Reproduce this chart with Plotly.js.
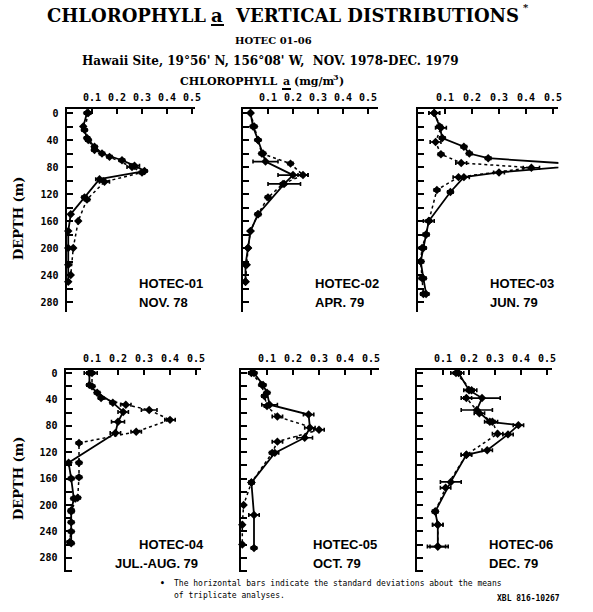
<!DOCTYPE html>
<html>
<head>
<meta charset="utf-8">
<script src="https://cdn.plot.ly/plotly-3.0.1.min.js"></script>
<style>html,body{margin:0;padding:0;background:#fff;}#chart{width:593px;height:612px;}</style>
</head>
<body>
<div id="chart"></div>
<script>
// ---- data (depth in m, chlorophyll a in mg/m3, std dev) ----
const p1SolidDepth = [0, 20, 37, 50, 60, 70, 78, 86, 98, 125, 150, 175, 200, 225, 250];
const p1SolidChl   = [0.08, 0.065, 0.08, 0.11, 0.14, 0.22, 0.27, 0.31, 0.13, 0.07, 0.015, 0.005, 0.005, 0.005, 0.005];
const p1SolidErr   = [0.01, 0.005, 0.01, 0.01, 0.01, 0.01, 0.02, 0.01, 0.015, 0.01, 0.005, 0.005, 0.005, 0.005, 0.005];
const p1DotDepth   = [0, 25, 40, 55, 65, 80, 88, 102, 128, 160, 200, 240];
const p1DotChl     = [0.085, 0.07, 0.085, 0.11, 0.17, 0.26, 0.30, 0.15, 0.08, 0.045, 0.025, 0.015];
const p1DotErr     = [0.01, 0.01, 0.01, 0.01, 0.01, 0.02, 0.01, 0.02, 0.01, 0.005, 0.005, 0.005];

const p2SolidDepth = [0, 20, 40, 60, 72, 92, 105, 150, 175, 200, 225, 250];
const p2SolidChl   = [0.03, 0.04, 0.06, 0.08, 0.09, 0.20, 0.165, 0.06, 0.03, 0.02, 0.01, 0.01];
const p2SolidErr   = [0.005, 0.01, 0.01, 0.01, 0.05, 0.06, 0.065, 0.01, 0.005, 0.005, 0.005, 0.005];
const p2DotDepth   = [0, 20, 40, 60, 75, 92, 105, 125, 150, 175, 200, 225, 250];
const p2DotChl     = [0.03, 0.045, 0.06, 0.075, 0.19, 0.24, 0.16, 0.10, 0.06, 0.03, 0.02, 0.015, 0.01];
const p2DotErr     = [0.005, 0.01, 0.01, 0.01, 0.01, 0.02, 0.01, 0.01, 0.01, 0.005, 0.005, 0.005, 0.005];

const p3SolidDepth = [0, 20, 37, 50, 60, 67, 77, 88, 95, 117, 160, 180, 200, 220, 245, 268];
const p3SolidChl   = [0.06, 0.08, 0.09, 0.17, 0.19, 0.26, 0.63, 0.30, 0.17, 0.12, 0.04, 0.03, 0.02, 0.01, 0.02, 0.03];
const p3SolidErr   = [0.02, 0.01, 0.01, 0.01, 0.01, 0.01, 0.02, 0.02, 0.02, 0.01, 0.02, 0.01, 0.01, 0.01, 0.01, 0.01];
const p3DotDepth   = [0, 22, 43, 61, 74, 81, 95, 114, 160, 180, 200, 220, 245, 268];
const p3DotChl     = [0.06, 0.085, 0.065, 0.085, 0.16, 0.42, 0.15, 0.07, 0.04, 0.03, 0.015, 0.01, 0.015, 0.02];
const p3DotErr     = [0.02, 0.02, 0.02, 0.01, 0.02, 0.03, 0.02, 0.01, 0.01, 0.01, 0.01, 0.01, 0.01, 0.01];

const p4SolidDepth = [0, 18, 30, 45, 59, 74, 91, 136, 160, 190, 210, 240, 258];
const p4SolidChl   = [0.09, 0.09, 0.12, 0.18, 0.22, 0.20, 0.19, 0.01, 0.02, 0.03, 0.02, 0.02, 0.02];
const p4SolidErr   = [0.02, 0.01, 0.01, 0.01, 0.02, 0.025, 0.02, 0.005, 0.01, 0.01, 0.01, 0.01, 0.01];
const p4DotDepth   = [0, 20, 38, 48, 56, 71, 89, 106, 136, 158, 189, 208, 226, 256];
const p4DotChl     = [0.10, 0.10, 0.135, 0.23, 0.32, 0.40, 0.27, 0.05, 0.05, 0.05, 0.045, 0.02, 0.02, 0.015];
const p4DotErr     = [0.02, 0.01, 0.01, 0.02, 0.03, 0.02, 0.02, 0.01, 0.01, 0.01, 0.01, 0.01, 0.01, 0.01];

const p5SolidDepth = [0, 18, 30, 48, 63, 83, 98, 121, 166, 215, 265];
const p5SolidChl   = [0.05, 0.085, 0.10, 0.11, 0.26, 0.265, 0.245, 0.13, 0.04, 0.05, 0.05];
const p5SolidErr   = [0.01, 0.01, 0.01, 0.03, 0.02, 0.02, 0.03, 0.015, 0.01, 0.02, 0.01];
const p5DotDepth   = [0, 18, 35, 50, 66, 86, 104, 121, 166, 200, 230, 260];
const p5DotChl     = [0.04, 0.08, 0.09, 0.10, 0.14, 0.30, 0.14, 0.12, 0.04, 0.01, 0.005, 0.005];
const p5DotErr     = [0.01, 0.01, 0.01, 0.01, 0.02, 0.02, 0.02, 0.01, 0.01, 0.005, 0.005, 0.005];

const p6SolidDepth = [0, 26, 38, 56, 74, 79, 93, 117, 124, 165, 210, 230, 263];
const p6SolidChl   = [0.16, 0.20, 0.25, 0.23, 0.28, 0.39, 0.35, 0.27, 0.19, 0.13, 0.07, 0.08, 0.08];
const p6SolidErr   = [0.02, 0.02, 0.07, 0.06, 0.02, 0.02, 0.02, 0.02, 0.02, 0.04, 0.01, 0.02, 0.04];
const p6DotDepth   = [0, 26, 38, 61, 74, 92, 124, 174, 210, 230, 263];
const p6DotChl     = [0.15, 0.21, 0.19, 0.24, 0.29, 0.31, 0.19, 0.11, 0.07, 0.08, 0.08];
const p6DotErr     = [0.02, 0.02, 0.02, 0.02, 0.02, 0.02, 0.02, 0.02, 0.01, 0.02, 0.03];

const xTickVals  = [0.1, 0.2, 0.3, 0.4, 0.5];
const xTickText  = ['0.1', '0.2', '0.3', '0.4', '0.5'];
const yTickVals  = [0, 40, 80, 120, 160, 200, 240, 280];
const yTickText  = ['0', '40', '80', '120', '160', '200', '240', '280'];
const panelNames = ['HOTEC-01', 'HOTEC-02', 'HOTEC-03', 'HOTEC-04', 'HOTEC-05', 'HOTEC-06'];
const panelDates = ['NOV. 78', 'APR. 79', 'JUN. 79', 'JUL.-AUG. 79', 'OCT. 79', 'DEC. 79'];

// ---- layout geometry (pixels) ----
const W = 593, H = 612;
const panels = [
  {x0: 67,  ppt: 25, xmax: 0.51, top: 109, bot: 312, d0: 113, ppm: 0.675},
  {x0: 243, ppt: 25, xmax: 0.54, top: 109, bot: 312, d0: 113, ppm: 0.675},
  {x0: 418, ppt: 27, xmax: 0.52, top: 109, bot: 312, d0: 113, ppm: 0.675},
  {x0: 66,  ppt: 26, xmax: 0.52, top: 370, bot: 572, d0: 373, ppm: 0.66},
  {x0: 241, ppt: 26, xmax: 0.53, top: 370, bot: 572, d0: 373, ppm: 0.66},
  {x0: 417, ppt: 26, xmax: 0.52, top: 370, bot: 572, d0: 373, ppm: 0.66}
];
const series = [
  [p1SolidDepth, p1SolidChl, p1SolidErr, p1DotDepth, p1DotChl, p1DotErr],
  [p2SolidDepth, p2SolidChl, p2SolidErr, p2DotDepth, p2DotChl, p2DotErr],
  [p3SolidDepth, p3SolidChl, p3SolidErr, p3DotDepth, p3DotChl, p3DotErr],
  [p4SolidDepth, p4SolidChl, p4SolidErr, p4DotDepth, p4DotChl, p4DotErr],
  [p5SolidDepth, p5SolidChl, p5SolidErr, p5DotDepth, p5DotChl, p5DotErr],
  [p6SolidDepth, p6SolidChl, p6SolidErr, p6DotDepth, p6DotChl, p6DotErr]
];

const tickFont = {family: 'DejaVu Sans Mono', size: 10, color: '#000', weight: 'bold'};
const layout = {
  width: W, height: H, margin: {l: 0, r: 0, t: 0, b: 0},
  paper_bgcolor: '#fff', plot_bgcolor: 'rgba(0,0,0,0)',
  showlegend: false, annotations: [], shapes: []
};
const traces = [];

panels.forEach((p, i) => {
  const n = i + 1;
  const xa = 'xaxis' + (n === 1 ? '' : n), ya = 'yaxis' + (n === 1 ? '' : n);
  const xr = 'x' + (n === 1 ? '' : n), yr = 'y' + (n === 1 ? '' : n);
  const x1 = p.x0 + p.xmax * p.ppt * 10;
  const ymin = -(p.d0 - p.top) / p.ppm, ymax = (p.bot - p.d0) / p.ppm;
  layout[xa] = {
    domain: [p.x0 / W, x1 / W], range: [0, p.xmax], anchor: yr, side: 'top',
    showline: true, linewidth: 2.5, linecolor: '#000', showgrid: false, zeroline: false,
    ticks: 'inside', ticklen: 5, tickwidth: 2, tickcolor: '#000',
    tickvals: xTickVals, ticktext: xTickText, tickfont: tickFont,
    ticklabelstandoff: 2, fixedrange: true
  };
  layout[ya] = {
    domain: [1 - p.bot / H, 1 - p.top / H], range: [ymax, ymin], anchor: xr,
    showline: true, linewidth: 2.5, linecolor: '#000', showgrid: false, zeroline: false,
    ticks: 'inside', ticklen: 6, tickwidth: 2, tickcolor: '#000',
    tickvals: yTickVals, ticktext: yTickText,
    minor: {tick0: 0, dtick: 20, ticks: 'inside', ticklen: 6, tickwidth: 2, tickcolor: '#000', showgrid: false},
    showticklabels: (i === 0 || i === 3), tickfont: tickFont, ticklabelstandoff: 4, fixedrange: true
  };
  const s = series[i];
  const mk = {symbol: 'diamond', size: 6.5, color: '#000'};
  traces.push({
    x: s[1], y: s[0], xaxis: xr, yaxis: yr, type: 'scatter', mode: 'lines+markers', cliponaxis: false,
    line: {color: '#000', width: 1.8}, marker: mk,
    error_x: {type: 'data', array: s[2], visible: true, color: '#000', thickness: 1.6, width: 2}
  });
  traces.push({
    x: s[4], y: s[3], xaxis: xr, yaxis: yr, type: 'scatter', mode: 'lines+markers', cliponaxis: false,
    line: {color: '#000', width: 1.5, dash: 'dot'}, marker: mk,
    error_x: {type: 'data', array: s[5], visible: true, color: '#000', thickness: 1.6, width: 2}
  });
  // panel labels
  const lx = (i === 3) ? 113 : p.x0 + 70;
  const ly1 = p.top + 174, ly2 = p.top + 193;
  const lf = {family: 'Liberation Sans', size: 13, color: '#000', weight: 'bold'};
  layout.annotations.push({xref: 'paper', yref: 'paper', x: (i === 3 ? 137 : lx) / W, y: 1 - ly1 / H,
    xanchor: 'left', yanchor: 'middle', showarrow: false, text: panelNames[i], font: lf});
  layout.annotations.push({xref: 'paper', yref: 'paper', x: lx / W, y: 1 - ly2 / H,
    xanchor: 'left', yanchor: 'middle', showarrow: false, text: panelDates[i], font: lf});
});

function ann(text, x, y, font, xanchor, angle) {
  layout.annotations.push({xref: 'paper', yref: 'paper', x: x / W, y: 1 - y / H,
    xanchor: xanchor || 'center', yanchor: 'middle', showarrow: false, text: text, font: font,
    textangle: angle || 0});
}
function uline(xa, xb, y) {
  layout.shapes.push({type: 'line', xref: 'paper', yref: 'paper', x0: xa / W, x1: xb / W,
    y0: 1 - y / H, y1: 1 - y / H, line: {color: '#000', width: 2}});
}
const serifB = s => ({family: 'DejaVu Serif', size: s, color: '#000', weight: 'bold'});
// main title (underlined "a")
ann('CHLOROPHYLL', 208, 15, serifB(18), 'right');
ann('a', 217, 15, serifB(18), 'center');
uline(211, 224, 25);
ann('VERTICAL DISTRIBUTIONS', 233, 15, serifB(18), 'left');
ann('*', 526, 8, serifB(10), 'center');
ann('HOTEC 01-06', 273, 41, serifB(10));
ann('Hawaii Site, 19°56\' N, 156°08\' W,  NOV. 1978-DEC. 1979', 270, 61, serifB(12));
// axis caption (underlined "a", superscript 3)
ann('CHLOROPHYLL', 279, 82, serifB(11), 'right');
ann('a', 286, 82, serifB(11), 'center');
uline(282, 291, 89);
ann('(mg/m', 292, 82, serifB(11), 'left');
ann('3', 331, 77, serifB(8), 'left');
ann(')', 337, 82, serifB(11), 'left');
ann('DEPTH (m)', 18, 218, serifB(13), 'center', -90);
ann('DEPTH (m)', 18, 478, serifB(13), 'center', -90);
const mono = {family: 'DejaVu Sans Mono', size: 8, color: '#000'};
const monoB = {family: 'DejaVu Sans Mono', size: 8, color: '#000', weight: 'bold'};
ann('•', 158, 583, monoB, 'left');
ann('The horizontal bars indicate the standard deviations about the means', 172, 583, mono, 'left');
ann('of triplicate analyses.', 172, 595, mono, 'left');
ann('XBL 816-10267', 495, 598, monoB, 'left');

Plotly.newPlot('chart', traces, layout, {staticPlot: true, displayModeBar: false});
</script>
</body>
</html>
